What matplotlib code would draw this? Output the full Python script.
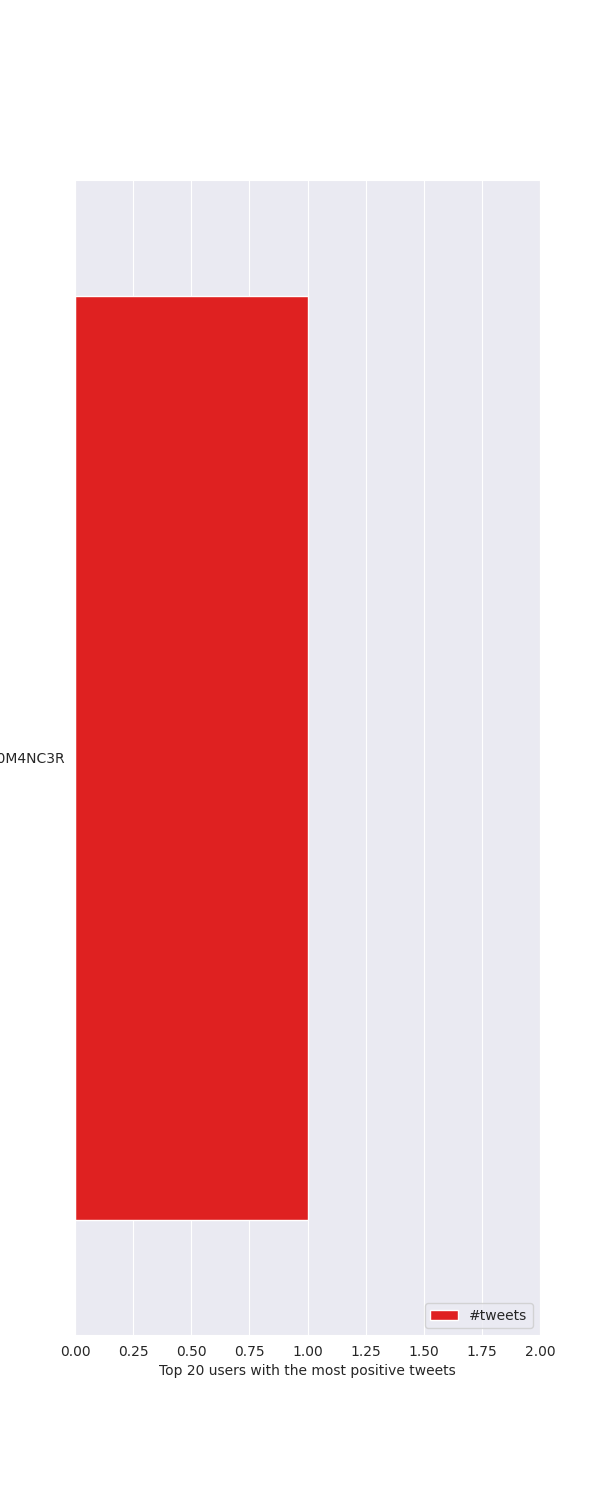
import matplotlib
matplotlib.use('Agg')
import matplotlib.pyplot as plt
import seaborn as sns

sns.set_style('darkgrid')

users = ['R0M4NC3R']
tweets = [1]

fig, ax = plt.subplots(figsize=(6, 15), dpi=100)
ax.barh(users, tweets, height=0.8, color='#df2121', label='#tweets')
ax.set_xlim(0, 2.0)
ax.set_ylim(-0.5, 0.5)
ax.set_xticks([0, 0.25, 0.5, 0.75, 1.0, 1.25, 1.5, 1.75, 2.0])
ax.set_xticklabels(['%.2f' % v for v in ax.get_xticks()])
ax.grid(False, axis='y')
ax.set_xlabel('Top 20 users with the most positive tweets')
ax.legend(loc='lower right')

plt.savefig('out.png')
